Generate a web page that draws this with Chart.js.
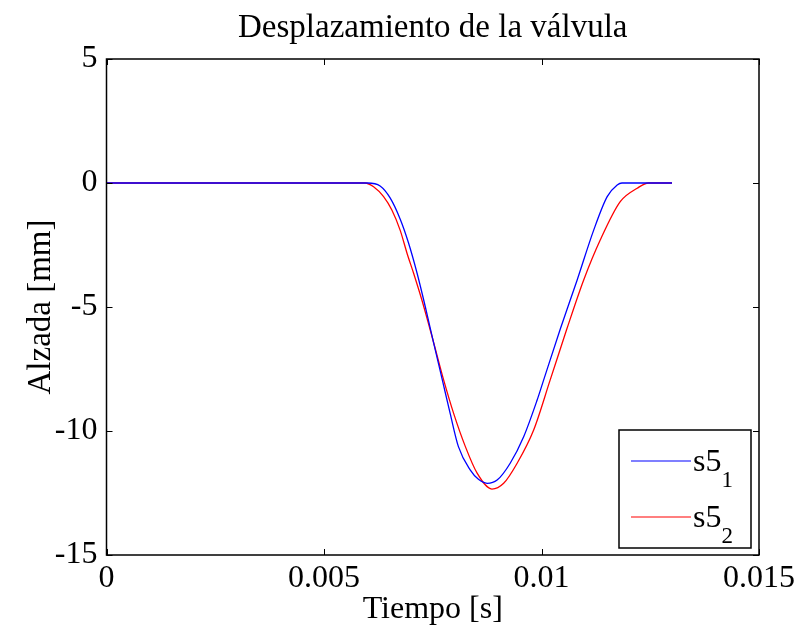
<!DOCTYPE html>
<html>
<head>
<meta charset="utf-8">
<script src="https://cdn.jsdelivr.net/npm/chart.js@4.4.0/dist/chart.umd.min.js"></script>
<style>
  html, body { margin: 0; padding: 0; background: #fff; }
  #wrap { width: 797px; height: 635px; }
</style>
</head>
<body>
<div id="wrap"><canvas id="valvula"></canvas></div>
<script>
// valve lift curves, time in seconds, lift in mm
const timeS1 = [0, 0.0060, 0.00629, 0.00652, 0.00675, 0.00694, 0.00714, 0.00733, 0.00752, 0.00772,
  0.00790, 0.00809, 0.00836, 0.00855, 0.00875, 0.00898, 0.00928, 0.00959, 0.00990, 0.01003,
  0.01043, 0.01082, 0.01120, 0.01151, 0.01174, 0.01185, 0.0130];
const liftS1 = [0, 0, -0.12, -0.6, -1.45, -2.4, -3.64, -5.0, -6.45, -7.94,
  -9.29, -10.63, -11.57, -11.95, -12.11, -11.98, -11.30, -10.23, -8.75, -8.05,
  -5.9, -3.91, -1.9, -0.55, -0.08, 0, 0];

const timeS2 = [0, 0.00594, 0.00614, 0.00637, 0.00656, 0.00675, 0.00691, 0.00706, 0.00725, 0.00750,
  0.00775, 0.00798, 0.00825, 0.00852, 0.00886, 0.00913, 0.00944, 0.00982, 0.01020, 0.01058,
  0.01097, 0.01135, 0.01181, 0.01220, 0.01246, 0.0130];
const liftS2 = [0, 0, -0.15, -0.55, -1.09, -1.9, -2.84, -3.64, -4.72, -6.3,
  -7.94, -9.29, -10.63, -11.7, -12.34, -12.11, -11.30, -9.96, -7.94, -5.9,
  -3.91, -2.3, -0.75, -0.21, 0, 0];

const xTicks = [0, 0.005, 0.01, 0.015];
const yTicks = [-15, -10, -5, 0, 5];
const seriesNames = ['s5', 's5'];
const seriesSubs = ['1', '2'];
const seriesColors = ['#0000ff', '#ff0000'];
const chartTitle = 'Desplazamiento de la válvula';

const serif = '"Liberation Serif", "Times New Roman", serif';

const toPoints = (xs, ys) => xs.map((x, i) => ({ x: x, y: ys[i] }));

// title centred over the plot box
const plotTitle = {
  id: 'plotTitle',
  afterDraw(chart) {
    const { ctx, chartArea: a } = chart;
    ctx.save();
    ctx.fillStyle = '#000';
    ctx.font = '33px ' + serif;
    ctx.textAlign = 'center';
    ctx.textBaseline = 'middle';
    ctx.fillText(chartTitle, (a.left + a.right) / 2, 28);
    ctx.restore();
  }
};

// box around the plot with inward ticks on all four sides
const frame = {
  id: 'frame',
  afterDatasetsDraw(chart) {
    const { ctx, chartArea: a, scales: { x, y } } = chart;
    ctx.save();
    ctx.strokeStyle = '#000';
    ctx.lineWidth = 1.5;
    ctx.strokeRect(a.left, a.top, a.right - a.left, a.bottom - a.top);
    ctx.lineWidth = 1;
    ctx.beginPath();
    xTicks.forEach(v => {
      const px = Math.round(x.getPixelForValue(v)) + 0.5;
      ctx.moveTo(px, a.bottom); ctx.lineTo(px, a.bottom - 6);
      ctx.moveTo(px, a.top); ctx.lineTo(px, a.top + 6);
    });
    yTicks.forEach(v => {
      const py = Math.round(y.getPixelForValue(v)) + 0.5;
      ctx.moveTo(a.left, py); ctx.lineTo(a.left + 6, py);
      ctx.moveTo(a.right, py); ctx.lineTo(a.right - 6, py);
    });
    ctx.stroke();
    ctx.restore();
  }
};

// legend with subscripted labels
const subLegend = {
  id: 'subLegend',
  afterDraw(chart) {
    const { ctx, chartArea: a } = chart;
    const w = 132, h = 118;
    const left = a.right - 8 - w, top = a.bottom - 7 - h;
    ctx.save();
    ctx.fillStyle = '#fff';
    ctx.fillRect(left, top, w, h);
    ctx.strokeStyle = '#000';
    ctx.lineWidth = 1.5;
    ctx.strokeRect(left, top, w, h);
    chart.data.datasets.forEach((ds, i) => {
      const cy = top + 31 + i * 56;
      ctx.strokeStyle = ds.borderColor;
      ctx.lineWidth = 1.2;
      ctx.beginPath();
      ctx.moveTo(left + 12, cy);
      ctx.lineTo(left + 72, cy);
      ctx.stroke();
      ctx.fillStyle = '#000';
      ctx.textBaseline = 'alphabetic';
      ctx.font = '32px ' + serif;
      ctx.fillText(seriesNames[i], left + 74, cy + 10);
      const wName = ctx.measureText(seriesNames[i]).width;
      ctx.font = '23px ' + serif;
      ctx.fillText(seriesSubs[i], left + 74 + wName, cy + 26);
    });
    ctx.restore();
  }
};

new Chart(document.getElementById('valvula'), {
  type: 'line',
  data: {
    datasets: [0, 1].map(i => ({
      label: seriesNames[i] + seriesSubs[i],
      data: i === 0 ? toPoints(timeS1, liftS1) : toPoints(timeS2, liftS2),
      borderColor: seriesColors[i],
      borderWidth: 1.3,
      pointRadius: 0,
      fill: false,
      cubicInterpolationMode: 'monotone'
    }))
  },
  options: {
    responsive: true,
    maintainAspectRatio: false,
    animation: false,
    layout: { padding: { left: 0, right: 38, top: 59, bottom: 0 } },
    plugins: {
      legend: { display: false },
      tooltip: { enabled: false },
      title: { display: false }
    },
    scales: {
      x: {
        type: 'linear',
        min: 0,
        max: 0.015,
        afterBuildTicks: s => { s.ticks = xTicks.map(v => ({ value: v })); },
        afterFit: s => { s.height = 80; s.paddingLeft = 0; s.paddingRight = 0; },
        grid: { display: false, drawTicks: false },
        border: { display: false },
        ticks: {
          color: '#000',
          padding: 4,
          maxRotation: 0,
          font: { family: serif, size: 32 },
          callback: v => String(v)
        },
        title: {
          display: true,
          text: 'Tiempo [s]',
          color: '#000',
          font: { family: serif, size: 32 },
          padding: { top: 0, bottom: 6 }
        }
      },
      y: {
        type: 'linear',
        min: -15,
        max: 5,
        afterBuildTicks: s => { s.ticks = yTicks.map(v => ({ value: v })); },
        afterFit: s => { s.width = 106.5; s.paddingTop = 0; s.paddingBottom = 0; },
        grid: { display: false, drawTicks: false },
        border: { display: false },
        ticks: {
          color: '#000',
          padding: 9,
          font: { family: serif, size: 32 },
          callback: v => String(v)
        },
        title: {
          display: true,
          text: 'Alzada [mm]',
          color: '#000',
          font: { family: serif, size: 33 },
          padding: { top: 22, bottom: 0 }
        }
      }
    }
  },
  plugins: [frame, subLegend, plotTitle]
});
</script>
</body>
</html>
